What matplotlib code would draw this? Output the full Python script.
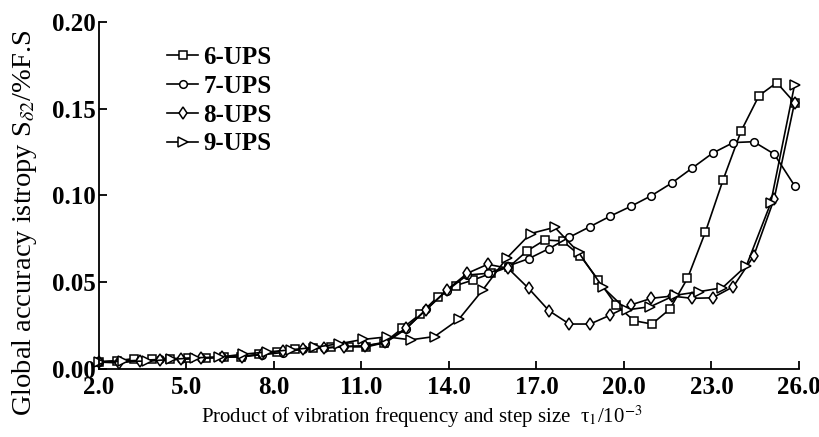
import matplotlib
matplotlib.use("Agg")
import matplotlib.pyplot as plt

plt.rcParams['font.family'] = ['Liberation Serif', 'DejaVu Serif']
plt.rcParams['mathtext.fontset'] = 'stix'

# ---- data ----
x6 = [2.00, 2.61, 3.22, 3.83, 4.45, 5.06, 5.67, 6.28, 6.89, 7.50, 8.12, 8.73, 9.34, 9.95,
      10.56, 11.17, 11.78, 12.40, 13.01, 13.62, 14.23, 14.84, 15.45, 16.07, 16.68, 17.29,
      17.90, 18.51, 19.12, 19.73, 20.35, 20.96, 21.57, 22.18, 22.79, 23.40, 24.02, 24.63,
      25.24, 25.85]
y6 = [0.0042, 0.0048, 0.0060, 0.0058, 0.0060, 0.0062, 0.0065, 0.0067, 0.0071, 0.0085,
      0.0098, 0.0113, 0.0120, 0.0128, 0.0128, 0.0127, 0.0151, 0.0234, 0.0315, 0.0416,
      0.0480, 0.0513, 0.0551, 0.0589, 0.0680, 0.0743, 0.0737, 0.0651, 0.0513, 0.0369,
      0.0278, 0.0259, 0.0344, 0.0522, 0.0787, 0.1089, 0.1371, 0.1574, 0.1649, 0.1534]

x78 = [2.00, 2.70, 3.40, 4.10, 4.81, 5.51, 6.21, 6.91, 7.61, 8.31, 9.01, 9.72, 10.42,
       11.12, 11.82, 12.52, 13.22, 13.93, 14.63, 15.33, 16.03, 16.73, 17.43, 18.13, 18.84,
       19.54, 20.24, 20.94, 21.64, 22.34, 23.04, 23.75, 24.45, 25.15, 25.85]
y7 = [0.0042, 0.0045, 0.0050, 0.0055, 0.0060, 0.0063, 0.0068, 0.0072, 0.0082, 0.0095,
      0.0115, 0.0123, 0.0130, 0.0133, 0.0151, 0.0229, 0.0344, 0.0451, 0.0541, 0.0551,
      0.0593, 0.0635, 0.0693, 0.0759, 0.0820, 0.0881, 0.0937, 0.0998, 0.1071, 0.1157,
      0.1243, 0.1304, 0.1309, 0.1238, 0.1056]
y8 = [0.0040, 0.0035, 0.0048, 0.0050, 0.0055, 0.0062, 0.0068, 0.0072, 0.0085, 0.0105,
      0.0115, 0.0120, 0.0128, 0.0133, 0.0155, 0.0234, 0.0340, 0.0455, 0.0551, 0.0603,
      0.0580, 0.0465, 0.0336, 0.0259, 0.0259, 0.0311, 0.0369, 0.0407, 0.0420, 0.0407,
      0.0410, 0.0474, 0.0651, 0.0979, 0.1534]

x9 = [2.00, 2.82, 3.64, 4.47, 5.29, 6.11, 6.93, 7.76, 8.58, 9.40, 10.22, 11.05, 11.87,
      12.69, 13.51, 14.34, 15.16, 15.98, 16.80, 17.63, 18.45, 19.27, 20.09, 20.91, 21.74,
      22.56, 23.38, 24.20, 25.03, 25.85]
y9 = [0.0040, 0.0045, 0.0045, 0.0055, 0.0065, 0.0068, 0.0085, 0.0098, 0.0110, 0.0125,
      0.0145, 0.0170, 0.0185, 0.0168, 0.0187, 0.0286, 0.0455, 0.0638, 0.0780, 0.0816,
      0.0671, 0.0472, 0.0340, 0.0359, 0.0424, 0.0445, 0.0468, 0.0595, 0.0954, 0.1636]

labels = ["6-UPS", "7-UPS", "8-UPS", "9-UPS"]
xticks = [2.0, 5.0, 8.0, 11.0, 14.0, 17.0, 20.0, 23.0, 26.0]
yticks = [0.00, 0.05, 0.10, 0.15, 0.20]

fig = plt.figure(figsize=(8.2, 4.37), dpi=100)
ax = fig.add_axes([0.1205, 0.1556, 0.8538, 0.7947])

style = dict(color='black', lw=1.2, mfc='white', mec='black', mew=1.1, clip_on=False)
ax.plot(x6, y6, marker='s', ms=5.5, label=labels[0], **style)
ax.plot(x78, y7, marker='o', ms=5.5, label=labels[1], **style)
ax.plot(x78, y8, marker='d', ms=6.5, label=labels[2], **style)
ax.plot(x9, y9, marker='>', ms=6.5, label=labels[3], **style)

ax.set_xlim(2, 26)
ax.set_ylim(0, 0.20)
ax.set_xticks(xticks)
ax.set_yticks(yticks)
ax.set_xticklabels([f"{v:.1f}" for v in xticks])
ax.set_yticklabels([f"{v:.2f}" for v in yticks])
for s in ['top', 'right']:
    ax.spines[s].set_visible(False)
for s in ['left', 'bottom']:
    ax.spines[s].set_linewidth(1.3)
ax.tick_params(direction='in', length=6, width=1.3, labelsize=18)
ax.tick_params(axis='y', pad=2)
ax.tick_params(axis='x', pad=5)
for t in ax.get_xticklabels() + ax.get_yticklabels():
    t.set_fontweight('bold')

ax.set_xlabel("Product of vibration frequency and step size  τ$_1$/10$^{-3}$", fontsize=15)
ax.set_ylabel("Global accuracy istropy S$_{δ2}$/%F.S", fontsize=20.5)
ax.xaxis.set_label_coords(0.4617, -0.10)
ax.yaxis.set_label_coords(-0.085, 0.42)

leg = ax.legend(loc='upper left', bbox_to_anchor=(167/820, 1 - 46/437),
                bbox_transform=fig.transFigure, frameon=False,
                handlelength=1.25, handletextpad=0.2, labelspacing=0.23,
                borderpad=0, borderaxespad=0, numpoints=1,
                prop={'weight': 'bold', 'size': 18})

fig.savefig("out.png", dpi=100)
